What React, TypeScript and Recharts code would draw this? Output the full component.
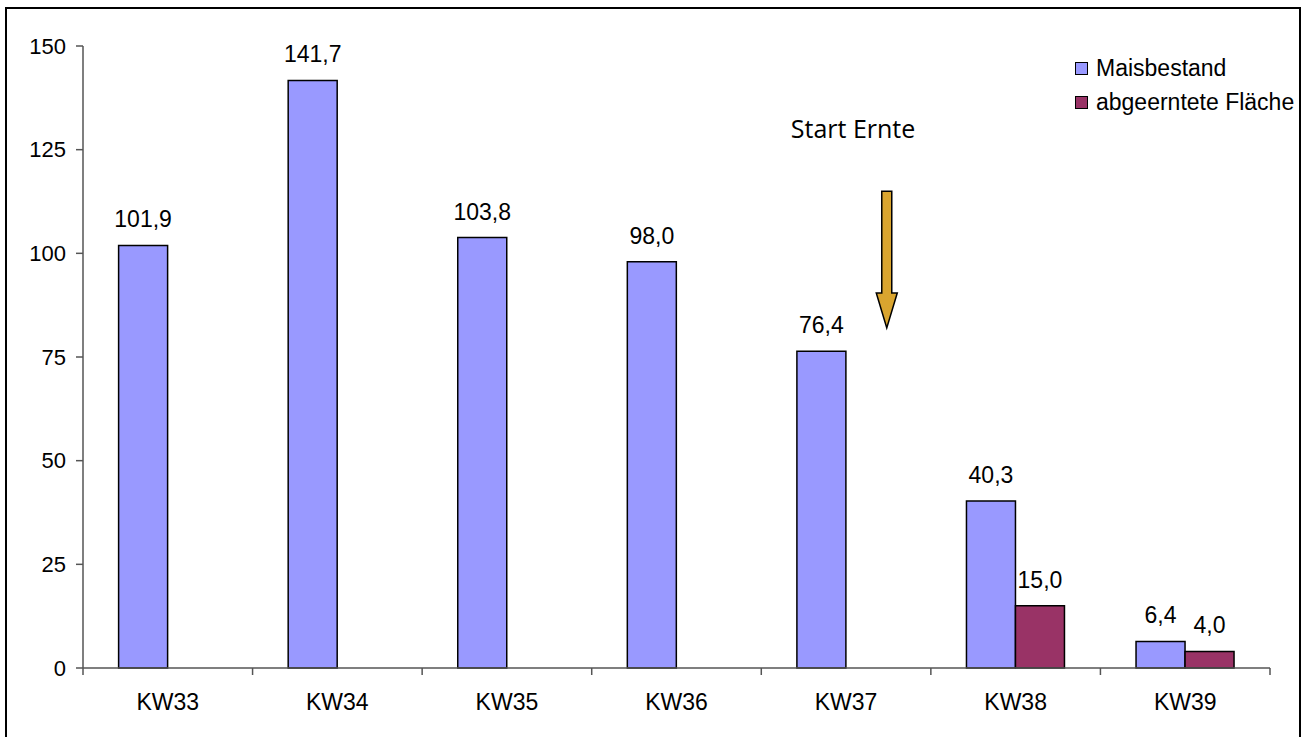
import React from 'react';
import {
  BarChart, Bar, XAxis, YAxis, LabelList, ReferenceArea, ReferenceDot,
} from 'recharts';

const categories = ['KW33', 'KW34', 'KW35', 'KW36', 'KW37', 'KW38', 'KW39'];
const maisbestand = [101.9, 141.7, 103.8, 98.0, 76.4, 40.3, 6.4];
const abgeerntet: (number | null)[] = [null, null, null, null, null, 15.0, 4.0];
const yTicks = [0, 25, 50, 75, 100, 125, 150];

const seriesNames = ['Maisbestand', 'abgeerntete Fläche'];
const seriesColors = ['#9999FF', '#993366'];

const annotationCategory = 'KW37';
const arrowTop = 115;
const arrowBottom = 82;
const annotationTextValue = 130;

const data = categories.map((c, i) => ({
  name: c,
  mais: maisbestand[i],
  ernte: abgeerntet[i],
}));

const FONT = '"Liberation Sans", Arial, sans-serif';
const fmt = (v: any) => (v === null || v === undefined ? '' : Number(v).toFixed(1).replace('.', ','));

const XTick = (props: any) => {
  const { x, y, payload, index } = props;
  const half = payload && payload.offset ? payload.offset : (1270 - 83) / 14;
  return (
    <g>
      <line x1={x - half} y1={y} x2={x - half} y2={y + 7} stroke="#555" strokeWidth={1.5} />
      {index === categories.length - 1 && (
        <line x1={x + half} y1={y} x2={x + half} y2={y + 7} stroke="#555" strokeWidth={1.5} />
      )}
      <text x={x} y={y + 34} textAnchor="middle" dominantBaseline="central" fontSize={23} fill="#000" fontFamily={FONT}>
        {payload.value}
      </text>
    </g>
  );
};

const ArrowShape = (props: any) => {
  const { x, y, width, height } = props;
  const cx = x + width * 0.74;
  const shaftHalf = 5;
  const headHalf = 10.5;
  const headLen = 35;
  const top = y;
  const bottom = y + height;
  const d = `M ${cx - shaftHalf} ${top} L ${cx + shaftHalf} ${top} L ${cx + shaftHalf} ${bottom - headLen} L ${cx + headHalf} ${bottom - headLen} L ${cx} ${bottom} L ${cx - headHalf} ${bottom - headLen} L ${cx - shaftHalf} ${bottom - headLen} Z`;
  return <path d={d} fill="#DAA52F" stroke="#000" strokeWidth={1.5} strokeLinejoin="miter" />;
};

const LegendBox = () => (
  <div style={{ position: 'absolute', left: 1075, top: 51, fontFamily: FONT, fontSize: 23, color: '#000', lineHeight: 1 }}>
    {seriesNames.map((n, i) => (
      <div key={n} style={{ display: 'flex', alignItems: 'center', height: 34, whiteSpace: 'nowrap' }}>
        <span style={{ display: 'inline-block', width: 11, height: 11, background: seriesColors[i], border: '1.5px solid #000', marginRight: 8 }} />
        <span>{n}</span>
      </div>
    ))}
  </div>
);

export default function App() {
  return (
    <div style={{ position: 'absolute', left: 0, top: 0, width: 1310, height: 737, overflow: 'hidden', background: '#fff', fontFamily: FONT }}>
      <div style={{ position: 'absolute', left: 5, top: 7, width: 1292, height: 760, border: '2.5px solid #000' }} />
      <div style={{ position: 'absolute', left: 0, top: 0 }}>
        <BarChart
          width={1310}
          height={737}
          data={data}
          margin={{ top: 46, right: 40, left: 0, bottom: 29 }}
          barCategoryGap="21%"
          barGap={0}
        >
          <XAxis
            dataKey="name"
            height={40}
            tickLine={false}
            tickSize={0}
            tickMargin={0}
            tick={<XTick />}
            axisLine={{ stroke: '#555', strokeWidth: 1.5 }}
            interval={0}
          />
          <YAxis
            width={83}
            domain={[0, 150]}
            ticks={yTicks}
            interval={0}
            tickSize={7}
            tickMargin={10}
            axisLine={{ stroke: '#555', strokeWidth: 1.5 }}
            tickLine={{ stroke: '#555', strokeWidth: 1.5 }}
            tick={{ fontSize: 22, fill: '#000', fontFamily: FONT }}
          />
          <Bar dataKey="mais" name={seriesNames[0]} fill={seriesColors[0]} stroke="#000" strokeWidth={1.5} isAnimationActive={false}>
            <LabelList dataKey="mais" position="top" offset={18} formatter={fmt} style={{ fontSize: 23, fill: '#000', fontFamily: FONT }} />
          </Bar>
          <Bar dataKey="ernte" name={seriesNames[1]} fill={seriesColors[1]} stroke="#000" strokeWidth={1.5} isAnimationActive={false}>
            <LabelList dataKey="ernte" position="top" offset={18} formatter={fmt} style={{ fontSize: 23, fill: '#000', fontFamily: FONT }} />
          </Bar>
          <ReferenceArea
            x1={annotationCategory}
            x2={annotationCategory}
            y1={arrowBottom}
            y2={arrowTop}
            shape={<ArrowShape />}
            ifOverflow="visible"
          />
          <ReferenceDot
            x={annotationCategory}
            y={annotationTextValue}
            r={0}
            fill="none"
            stroke="none"
            ifOverflow="visible"
            label={{ value: 'Start Ernte', position: 'center', dx: 7, fontSize: 25, fill: '#000', fontFamily: '"Open Sans", "DejaVu Sans", sans-serif' }}
          />
        </BarChart>
      </div>
      <LegendBox />
    </div>
  );
}
